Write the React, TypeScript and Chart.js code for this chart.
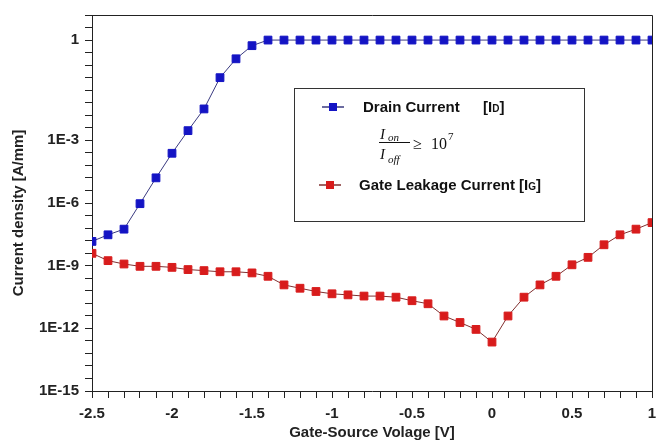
import React, { useEffect, useRef } from 'react';
import { Chart, registerables, LogarithmicScale } from 'chart.js';

// ---- Data ----
const voltage = [
  -2.5, -2.4, -2.3, -2.2, -2.1, -2.0, -1.9, -1.8, -1.7, -1.6, -1.5, -1.4,
  -1.3, -1.2, -1.1, -1.0, -0.9, -0.8, -0.7, -0.6, -0.5, -0.4, -0.3, -0.2,
  -0.1, 0.0, 0.1, 0.2, 0.3, 0.4, 0.5, 0.6, 0.7, 0.8, 0.9, 1.0,
];
const drainCurrent = [
  1.45e-8, 3.0e-8, 5.6e-8, 9.3e-7, 1.6e-5, 2.4e-4, 1.95e-3, 8.7e-3, 0.075, 0.275, 0.68, 1.0,
  1.0, 1.0, 1.0, 1.0, 1.0, 1.0, 1.0, 1.0, 1.0, 1.0, 1.0, 1.0,
  1.0, 1.0, 1.0, 1.0, 1.0, 1.0, 1.0, 1.0, 1.0, 1.0, 1.0, 1.0,
];
const gateLeakage = [
  3.9e-9, 1.74e-9, 1.2e-9, 9.3e-10, 9.3e-10, 8.3e-10, 6.5e-10, 5.8e-10, 5.1e-10, 5.1e-10, 4.5e-10, 3.1e-10,
  1.2e-10, 8.3e-11, 5.8e-11, 4.5e-11, 4.0e-11, 3.5e-11, 3.5e-11, 3.1e-11, 2.1e-11, 1.5e-11, 3.9e-12, 1.9e-12,
  8.9e-13, 2.2e-13, 3.9e-12, 3.1e-11, 1.2e-10, 3.1e-10, 1.1e-9, 2.5e-9, 1.0e-8, 3.0e-8, 5.6e-8, 1.15e-7,
];
const labeledExponents = [-15, -12, -9, -6, -3, 0];
const xTickLabels = [-2.5, -2, -1.5, -1, -0.5, 0, 0.5, 1];

const seriesNames = ['Drain Current', 'Gate Leakage Current'];
const xTitle = 'Gate-Source Volage [V]';
const yTitle = 'Current density [A/mm]';

// ---- Axis geometry of the reference's (non-uniform) log axis ----
const KNOT_EXP = [-15, -12, -9, -6, -3, 0, 0.75];
const KNOT_FRAC = [0, 5, 10, 15, 20, 28, 30].map((v) => v / 30);
const Y_TICK_COUNT = 30;

function interp(v: number, xs: number[], ys: number[]) {
  let k = 0;
  while (k < xs.length - 2 && v > xs[k + 1]) k++;
  const t = (v - xs[k]) / (xs[k + 1] - xs[k]);
  return ys[k] + t * (ys[k + 1] - ys[k]);
}

class BrokenLogScale extends LogarithmicScale {
  static id = 'brokenLog';
  static defaults = (LogarithmicScale as any).defaults;
  getPixelForValue(value: number) {
    const v = value === undefined || value === null || value <= 0 ? (this as any).min : value;
    return (this as any).getPixelForDecimal(interp(Math.log10(v), KNOT_EXP, KNOT_FRAC));
  }
  getValueForPixel(pixel: number) {
    return Math.pow(10, interp((this as any).getDecimalForPixel(pixel), KNOT_FRAC, KNOT_EXP));
  }
}

Chart.register(...registerables, BrokenLogScale as any);

const SANS = '"Liberation Sans", Arial, sans-serif';
const SERIF = '"Liberation Serif", "DejaVu Serif", serif';
const BLUE = '#1414c4';
const RED = '#d81c1c';

const framePlugin = {
  id: 'frameAndLegend',
  afterDraw(chart: any) {
    const { ctx, chartArea } = chart;
    const { left, top, right, bottom } = chartArea;
    ctx.save();
    ctx.strokeStyle = '#222';
    ctx.lineWidth = 1;
    ctx.beginPath();
    ctx.moveTo(Math.round(left), Math.round(top) + 0.5);
    ctx.lineTo(Math.round(right) + 0.5, Math.round(top) + 0.5);
    ctx.lineTo(Math.round(right) + 0.5, Math.round(bottom));
    ctx.stroke();

    // y-axis title
    ctx.save();
    ctx.translate(19, (top + bottom) / 2 + 10);
    ctx.rotate(-Math.PI / 2);
    ctx.fillStyle = '#222';
    ctx.font = `bold 15px ${SANS}`;
    ctx.textAlign = 'center';
    ctx.textBaseline = 'middle';
    ctx.fillText(yTitle, 0, 0);
    ctx.restore();

    // legend box
    const bx = Math.round(left) + 202;
    const by = Math.round(top) + 73;
    ctx.strokeStyle = '#333';
    ctx.strokeRect(bx + 0.5, by + 0.5, 290, 133);

    const marker = (cx: number, cy: number, color: string, line: string) => {
      ctx.strokeStyle = line;
      ctx.lineWidth = 1.5;
      ctx.beginPath();
      ctx.moveTo(cx - 11, cy);
      ctx.lineTo(cx + 11, cy);
      ctx.stroke();
      ctx.fillStyle = color;
      ctx.fillRect(cx - 4, cy - 4, 8, 8);
    };
    const labelWithSub = (x: number, y: number, main: string, sub: string) => {
      ctx.fillStyle = '#111';
      ctx.textBaseline = 'alphabetic';
      ctx.font = `bold 15px ${SANS}`;
      ctx.fillText(main, x, y);
      let w = ctx.measureText(main).width;
      ctx.font = `bold 10px ${SANS}`;
      ctx.fillText(sub, x + w, y);
      w += ctx.measureText(sub).width;
      ctx.font = `bold 15px ${SANS}`;
      ctx.fillText(']', x + w, y);
    };

    // Drain current entry
    marker(bx + 39, by + 19, BLUE, '#3a3a80');
    ctx.fillStyle = '#111';
    ctx.font = `bold 15px ${SANS}`;
    ctx.textBaseline = 'alphabetic';
    ctx.fillText(seriesNames[0], bx + 69, by + 24);
    labelWithSub(bx + 189, by + 24, '[I', 'D');

    // Ion / Ioff >= 10^7
    ctx.fillStyle = '#111';
    ctx.font = `italic 15px ${SERIF}`;
    ctx.fillText('I', bx + 86, by + 51);
    ctx.font = `italic 11px ${SERIF}`;
    ctx.fillText('on', bx + 94, by + 53);
    ctx.fillRect(bx + 85, by + 54, 31, 1);
    ctx.font = `italic 15px ${SERIF}`;
    ctx.fillText('I', bx + 86, by + 71);
    ctx.font = `italic 11px ${SERIF}`;
    ctx.fillText('off', bx + 94, by + 75);
    ctx.font = `16px ${SERIF}`;
    ctx.fillText('\u2265', bx + 119, by + 61);
    ctx.fillText('10', bx + 137, by + 61);
    ctx.font = `11px ${SERIF}`;
    ctx.fillText('7', bx + 154, by + 52);

    // Gate leakage entry
    marker(bx + 36, by + 97, RED, '#803030');
    labelWithSub(bx + 65, by + 102, 'Gate Leakage Current [I', 'G');
    ctx.restore();
  },
};

export default function App() {
  const ref = useRef<HTMLCanvasElement | null>(null);

  useEffect(() => {
    document.body.style.margin = '0';
    const canvas = ref.current;
    if (!canvas) return;

    const yTicks: { value: number }[] = [];
    for (let i = 0; i <= Y_TICK_COUNT; i++) {
      yTicks.push({ value: Math.pow(10, interp(i / Y_TICK_COUNT, KNOT_FRAC, KNOT_EXP)) });
    }

    const chart = new Chart(canvas, {
      type: 'line',
      data: {
        datasets: [
          {
            label: seriesNames[0],
            data: voltage.map((x, i) => ({ x, y: drainCurrent[i] })),
            borderColor: '#3a3a80',
            borderWidth: 1,
            backgroundColor: BLUE,
            pointBackgroundColor: BLUE,
            pointBorderColor: BLUE,
            pointBorderWidth: 1,
            pointStyle: 'rect',
            pointRadius: 5.5,
          },
          {
            label: seriesNames[1],
            data: voltage.map((x, i) => ({ x, y: gateLeakage[i] })),
            borderColor: '#803030',
            borderWidth: 1,
            backgroundColor: RED,
            pointBackgroundColor: RED,
            pointBorderColor: RED,
            pointBorderWidth: 1,
            pointStyle: 'rect',
            pointRadius: 5.5,
          },
        ],
      },
      options: {
        animation: false,
        responsive: false,
        layout: { padding: { top: 13, right: 15, left: 0, bottom: 0 } },
        plugins: {
          legend: { display: false },
          tooltip: { enabled: false },
        },
        scales: {
          x: {
            type: 'linear',
            min: -2.5,
            max: 1,
            afterFit: (s: any) => {
              s.height = 53;
            },
            grid: {
              drawOnChartArea: false,
              drawTicks: true,
              tickLength: 7,
              color: '#222',
            },
            border: { display: true, color: '#222', width: 1 },
            ticks: {
              stepSize: 0.1,
              autoSkip: false,
              maxRotation: 0,
              padding: 7,
              color: '#222',
              font: { family: SANS, size: 15, weight: 'bold' },
              callback: (v: any) => {
                const n = Number(Number(v).toFixed(2));
                return xTickLabels.some((t) => Math.abs(t - n) < 1e-6) ? String(Number(n.toFixed(1))) : '';
              },
            },
            title: {
              display: true,
              text: xTitle,
              color: '#222',
              font: { family: SANS, size: 15, weight: 'bold' },
              padding: { top: 0, bottom: 2 },
            },
          },
          y: {
            type: 'brokenLog' as any,
            min: 1e-15,
            max: Math.pow(10, KNOT_EXP[KNOT_EXP.length - 1]),
            bounds: 'data',
            afterFit: (s: any) => {
              s.width = 92;
            },
            afterBuildTicks: (s: any) => {
              s.ticks = yTicks.map((t) => ({ value: t.value }));
            },
            grid: {
              drawOnChartArea: false,
              drawTicks: true,
              tickLength: 7,
              color: '#222',
            },
            border: { display: true, color: '#222', width: 1 },
            ticks: {
              autoSkip: false,
              padding: 6,
              color: '#222',
              font: { family: SANS, size: 15, weight: 'bold' },
              callback: (v: any) => {
                const e = Math.log10(Number(v));
                const r = Math.round(e);
                if (Math.abs(e - r) < 1e-6 && labeledExponents.includes(r)) {
                  return r === 0 ? '1' : `1E${r}`;
                }
                return '';
              },
            },
            title: { display: false },
          },
        },
      } as any,
      plugins: [framePlugin],
    });
    return () => chart.destroy();
  }, []);

  return (
    <div style={{ width: 667, height: 444, background: '#fff' }}>
      <canvas ref={ref} width={667} height={444} style={{ display: 'block' }} />
    </div>
  );
}
